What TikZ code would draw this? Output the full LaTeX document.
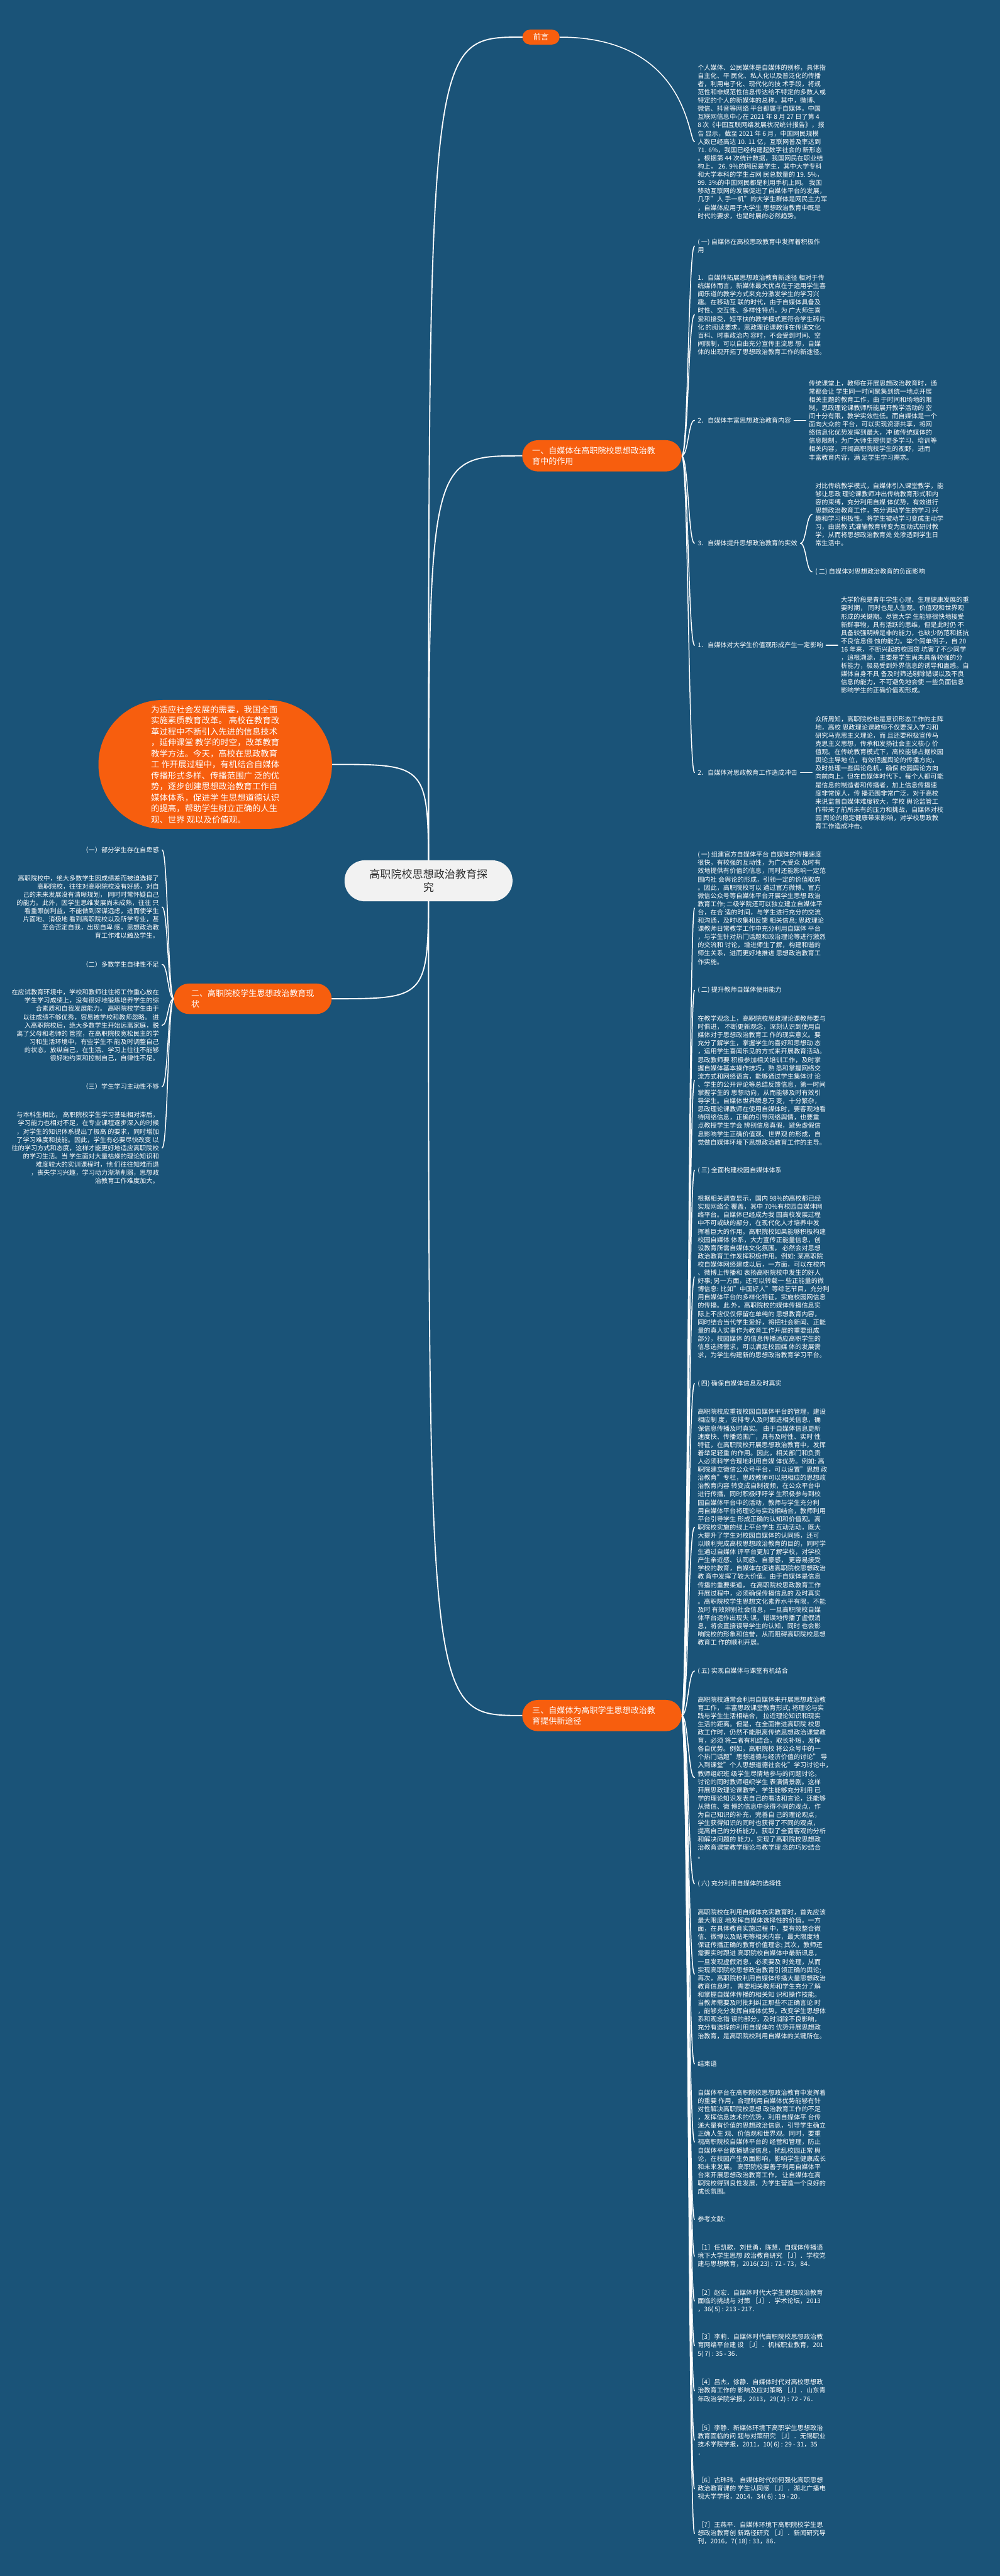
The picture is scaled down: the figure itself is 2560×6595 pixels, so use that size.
\documentclass[tikz,border=0pt]{standalone}
\usepackage{fontspec}
\setmainfont{Noto Sans CJK SC}
\usetikzlibrary{calc}
\definecolor{bgblue}{RGB}{26,83,120}
\definecolor{orng}{RGB}{247,94,14}
\definecolor{ctrfill}{RGB}{242,242,242}
\definecolor{ctrtext}{RGB}{45,45,45}
\pgfdeclarelayer{bglayer}\pgfdeclarelayer{lines}\pgfsetlayers{bglayer,lines,main}
\tikzset{
 para/.style={text=white, inner sep=0pt, outer xsep=8pt, font=\fontsize{16.4pt}{21.1pt}\selectfont, align=left, anchor=west},
 lpara/.style={para, align=right, anchor=east},
 pillbox/.style={fill=orng, text=white, inner sep=0pt, rounded corners=#1},
 link/.style={draw=white, line width=2.4pt, line cap=round},
 mainlink/.style={draw=white, line width=3pt, line cap=round},
}
\begin{document}
\begin{tikzpicture}[x=1pt,y=-1pt]
\useasboundingbox (0,0) rectangle (2560,6595);
\begin{pgfonlayer}{bglayer}
\fill[bgblue] (0,0) rectangle (2560,6595);
\end{pgfonlayer}

% centre
\node[fill=ctrfill, text=ctrtext, rounded corners=52pt, minimum width=430pt, minimum height=105pt, inner sep=0pt, align=center, font=\fontsize{27.5pt}{34pt}\selectfont] (ctr) at (1097,2255) {高职院校思想政治教育探\\究};

% branches right
\node[pillbox=19pt, minimum width=95pt, minimum height=38pt, font=\fontsize{20pt}{24pt}\selectfont] (qy) at (1385,95) {前言};
\node[pillbox=40pt, minimum width=408pt, minimum height=80pt, align=left, font=\fontsize{21pt}{27pt}\selectfont] (b1) at (1541,1167) {一、自媒体在高职院校思想政治教\\育中的作用\hphantom{院校思想政治教育院校思想}};
\node[pillbox=40pt, minimum width=408pt, minimum height=80pt, align=left, font=\fontsize{21pt}{27pt}\selectfont] (b3) at (1541,4392) {三、自媒体为高职学生思想政治教\\育提供新途径\hphantom{院校思想政治教育院校思}};
% branches left
\node[pillbox=165pt, minimum width=598pt, minimum height=330pt, align=left, font=\fontsize{21.6pt}{28.2pt}\selectfont] (sum) at (551,1957) {为适应社会发展的需要，我国全面\\实施素质教育改革。 高校在教育改\\革过程中不断引入先进的信息技术\\，延伸课堂 教学的时空，改革教育\\教学方法。今天，高校在思政教育\\工 作开展过程中，有机结合自媒体\\传播形式多样、传播范围广 泛的优\\势，逐步创建思想政治教育工作自\\媒体体系，促进学 生思想道德认识\\的提高，帮助学生树立正确的人生\\观、世界 观以及价值观。};
\node[pillbox=39pt, minimum width=404pt, minimum height=78pt, align=left, font=\fontsize{21pt}{27pt}\selectfont] (b2) at (647,2557) {二、高职院校学生思想政治教育现\\状\hphantom{高职院校学生思想政治教育现状}};

% 前言
\node[para] (P0) at (1778,363) {个人媒体、公民媒体是自媒体的别称，具体指\\自主化、平 民化、私人化以及普泛化的传播\\者，利用电子化、现代化的技 术手段，将规\\范性和非规范性信息传达给不特定的多数人或\\特定的个人的新媒体的总称。其中，微博、\\微信、抖音等网络 平台都属于自媒体。中国\\互联网信息中心在 2021 年 8 月 27 日了第 4\\8 次《中国互联网络发展状况统计报告》，报\\告 显示，截至 2021 年 6 月，中国网民规模\\人数已经高达 10. 11 亿，互联网普及率达到\\71. 6\%，我国已经构建起数字社会的 新形态\\。根据第 44 次统计数据，我国网民在职业结\\构上， 26. 9\%的网民是学生，其中大学专科\\和大学本科的学生占网 民总数量的 19. 5\%，\\99. 3\%的中国网民都是利用手机上网。 我国\\移动互联网的发展促进了自媒体平台的发展，\\几乎"人 手一机"的大学生群体是网民主力军\\，自媒体应用于大学生 思想政治教育中既是\\时代的要求，也是时展的必然趋势。};

% branch one children
\node[para] (A1) at (1778,630) {( 一) 自媒体在高校思政教育中发挥着积极作\\用};
\node[para] (A2) at (1778,806) {1．自媒体拓展思想政治教育新途径 相对于传\\统媒体而言，新媒体最大优点在于运用学生喜\\闻乐道的教学方式来充分激发学生的学习兴\\趣。在移动互 联的时代，由于自媒体具备及\\时性、交互性、多样性特点，为 广大师生喜\\爱和接受，短平快的教学模式更符合学生碎片\\化 的阅读要求。思政理论课教师在传递文化\\百科、时事政治内 容时，不会受到时间、空\\间限制，可以自由充分宣传主流思 想，自媒\\体的出现开拓了思想政治教育工作的新途径。};
\node[para] (A3) at (1778,1076) {2．自媒体丰富思想政治教育内容};
\node[para] (A3c) at ($(A3.east)+(30,0)$) {传统课堂上，教师在开展思想政治教育时，通\\常都会让 学生同一时间聚集到统一地点开展\\相关主题的教育工作，由 于时间和场地的限\\制，思政理论课教师所能展开教学活动的 空\\间十分有限，教学实效性低。而自媒体是一个\\面向大众的 平台，可以实现资源共享，将网\\络信息化优势发挥到最大，冲 破传统媒体的\\信息限制，为广大师生提供更多学习、培训等\\相关内容，开阔高职院校学生的视野，进而\\丰富教育内容，满 足学生学习需求。};
\node[para] (A4) at (1778,1391) {3．自媒体提升思想政治教育的实效};
\node[para] (A4a) at ($(A4.east)+(30,-74)$) {对比传统教学模式，自媒体引入课堂教学，能\\够让思政 理论课教师冲出传统教育形式和内\\容的束缚，充分利用自媒 体优势，有效进行\\思想政治教育工作，充分调动学生的学习 兴\\趣和学习积极性。将学生被动学习变成主动学\\习，由说教 式灌输教育转变为互动式研讨教\\学，从而将思想政治教育处 处渗透到学生日\\常生活中。};
\node[para] (A4b) at ($(A4.east)+(30,73)$) {( 二) 自媒体对思想政治教育的负面影响};
\node[para] (A5) at (1778,1652) {1．自媒体对大学生价值观形成产生一定影响};
\node[para] (A5c) at ($(A5.east)+(30,0)$) {大学阶段是青年学生心理、生理健康发展的重\\要时期， 同时也是人生观、价值观和世界观\\形成的关键期。尽管大学 生能够很快地接受\\新鲜事物，具有活跃的思维，但是此时仍 不\\具备较强明辨是非的能力，也缺少防范和抵抗\\不良信息侵 蚀的能力。举个简单例子，自 20\\16 年来，不断兴起的校园贷 坑害了不少同学\\，追根溯源，主要是学生尚未具备较强的分\\析能力，极易受到外界信息的诱导和蛊惑。自\\媒体自身不具 备及时筛选剔除错误以及不良\\信息的能力，不可避免地会使 一些负面信息\\影响学生的正确价值观形成。};
\node[para] (A6) at (1778,1978) {2．自媒体对思政教育工作造成冲击};
\node[para] (A6c) at ($(A6.east)+(30,0)$) {众所周知，高职院校也是意识形态工作的主阵\\地，高校 思政理论课教师不仅要深入学习和\\研究马克思主义理论，而 且还要积极宣传马\\克思主义思想，传承和发扬社会主义核心 价\\值观。在传统教育模式下，高校能够占据校园\\舆论主导地 位，有效把握舆论的传播方向，\\及时处理一些舆论危机，确保 校园舆论方向\\向前向上。但在自媒体时代下，每个人都可能\\是信息的制造者和传播者，加上信息传播速\\度非常惊人，传 播范围非常广泛，对于高校\\来说监督自媒体难度较大，学校 舆论监管工\\作带来了前所未有的压力和挑战，自媒体对校\\园 舆论的稳定健康带来影响，对学校思政教\\育工作造成冲击。};

% branch three children
\node[para] (B1) at (1778,2325) {( 一) 组建官方自媒体平台 自媒体的传播速度\\很快，有较强的互动性，为广大受众 及时有\\效地提供有价值的信息，同时还能影响一定范\\围内社 会舆论的形成，引领一定的价值取向\\。因此，高职院校可以 通过官方微博、官方\\微信公众号等自媒体平台开展学生思想 政治\\教育工作; 二级学院还可以独立建立自媒体平\\台，在合 适的时间，与学生进行充分的交流\\和沟通，及时收集和反馈 相关信息; 思政理论\\课教师日常教学工作中充分利用自媒体 平台\\，与学生针对热门话题和政治理论等进行激烈\\的交流和 讨论，增进师生了解，构建和谐的\\师生关系，进而更好地推进 思想政治教育工\\作实施。};
\node[para] (B2) at (1778,2535) {( 二) 提升教师自媒体使用能力};
\node[para] (B3) at (1778,2766) {在教学观念上，高职院校思政理论课教师要与\\时俱进， 不断更新观念，深刻认识到使用自\\媒体对于思想政治教育工 作的现实意义。要\\充分了解学生，掌握学生的喜好和思想动 态\\，运用学生喜闻乐见的方式来开展教育活动。\\思政教师要 积极参加相关培训工作，及时掌\\握自媒体基本操作技巧，熟 悉和掌握网络交\\流方式和网络语言，能够通过学生集体讨 论\\、学生的公开评论等总结反馈信息，第一时间\\掌握学生的 思想动向，从而能够及时有效引\\导学生。自媒体世界瞬息万 变，十分繁杂，\\思政理论课教师在使用自媒体时，要客观地看\\待网络信息，正确的引导网络舆情，也要重\\点教授学生学会 辨别信息真假，避免虚假信\\息影响学生正确价值观、世界观 的形成，自\\觉做自媒体环境下思想政治教育工作的主导。};
\node[para] (B4) at (1778,2996) {( 三) 全面构建校园自媒体体系};
\node[para] (B5) at (1778,3269) {根据相关调查显示，国内 98\%的高校都已经\\实现网络全 覆盖，其中 70\%有校园自媒体网\\络平台。自媒体已经成为我 国高校发展过程\\中不可或缺的部分，在现代化人才培养中发\\挥着巨大的作用。高职院校如果能够积极构建\\校园自媒体 体系，大力宣传正能量信息，创\\设教育所需自媒体文化氛围， 必然会对思想\\政治教育工作发挥积极作用。例如: 某高职院\\校自媒体网络建成以后，一方面，可以在校内\\、微博上传播和 表扬高职院校中发生的好人\\好事; 另一方面，还可以转载一 些正能量的微\\博信息: 比如"中国好人"等综艺节目，充分利\\用自媒体平台的多样化特征，实施校园网信息\\的传播。此 外，高职院校的媒体传播信息实\\际上不应仅仅停留在单纯的 思想教育内容，\\同时结合当代学生爱好，将把社会新闻、正能\\量的真人实事作为教育工作开展的重要组成\\部分，校园媒体 的信息传播适应高职学生的\\信息选择需求，可以满足校园媒 体的发展需\\求，为学生构建新的思想政治教育学习平台。};
\node[para] (B6) at (1778,3542) {( 四) 确保自媒体信息及时真实};
\node[para] (B7) at (1778,3910) {高职院校应重视校园自媒体平台的管理，建设\\相应制 度，安排专人及时跟进相关信息，确\\保信息传播及时真实。 由于自媒体信息更新\\速度快、传播范围广，具有及时性、实时 性\\特征，在高职院校开展思想政治教育中，发挥\\着举足轻重 的作用。因此，相关部门和负责\\人必须科学合理地利用自媒 体优势。例如: 高\\职院建立微信公众号平台，可以设置"思想 政\\治教育"专栏，思政教师可以把相应的思想政\\治教育内容 转变成自制视频，在公众平台中\\进行传播，同时积极呼吁学 生积极参与到校\\园自媒体平台中的活动，教师与学生充分利\\用自媒体平台将理论与实践相结合，教师利用\\平台引导学生 形成正确的认知和价值观。高\\职院校实施的线上平台学生 互动活动，既大\\大提升了学生对校园自媒体的认同感，还可\\以顺利完成高校思想政治教育的目的，同时学\\生通过自媒体 评平台更加了解学校，对学校\\产生亲近感、认同感、自豪感， 更容易接受\\学校的教育，自媒体在促进高职院校思想政治\\教 育中发挥了较大价值。由于自媒体是信息\\传播的重要渠道， 在高职院校思政教育工作\\开展过程中，必须确保传播信息的 及时真实\\。高职院校学生思想文化素养水平有限，不能\\及时 有效辨别社会信息，一旦高职院校自媒\\体平台运作出现失 误，错误地传播了虚假消\\息，将会直接误导学生的认知，同时 也会影\\响院校的形象和信誉，从而阻碍高职院校思想\\教育工 作的顺利开展。};
\node[para] (B8) at (1778,4278) {( 五) 实现自媒体与课堂有机结合};
\node[para] (B9) at (1778,4551) {高职院校通常会利用自媒体来开展思想政治教\\育工作， 丰富思政课堂教育形式; 将理论与实\\践与学生生活相结合， 拉近理论知识和现实\\生活的距离。但是，在全面推进高职院 校思\\政工作时，仍然不能脱离传统思想政治课堂教\\育，必须 将二者有机结合，取长补短，发挥\\各自优势。例如，高职院校 将公众号中的一\\个热门话题"思想道德与经济价值的讨论" 导\\入到课堂"个人思想道德社会化"学习讨论中，\\教师组织班 级学生尽情地参与的问题讨论。\\讨论的同时教师组织学生 表演情景剧。这样\\开展思政理论课教学，学生能够充分利用 已\\学的理论知识发表自己的看法和言论，还能够\\从微信、微 博的信息中获得不同的观点，作\\为自己知识的补充，完善自 己的理论观点，\\学生获得知识的同时也获得了不同的观点，\\提高自己的分析能力，获取了全面客观的分析\\和解决问题的 能力，实现了高职院校思想政\\治教育课堂教学理论与教学理 念的巧妙结合\\。};
\node[para] (B10) at (1778,4823) {( 六) 充分利用自媒体的选择性};
\node[para] (B11) at (1778,5054) {高职院校在利用自媒体充实教育时，首先应该\\最大限度 地发挥自媒体选择性的价值。一方\\面，在具体教育实施过程 中，要有效整合微\\信、微博以及贴吧等相关内容，最大限度地\\保证传播正确的教育价值理念; 其次，教师还\\需要实时跟进 高职院校自媒体中最新讯息，\\一旦发现虚假消息，必须要及 时处理，从而\\实现高职院校思想政治教育引领正确的舆论;\\再次，高职院校利用自媒体传播大量思想政治\\教育信息时， 需要相关教师和学生充分了解\\和掌握自媒体传播的相关知 识和操作技能。\\当教师需要及时批判纠正那些不正确言论 时\\，能够充分发挥自媒体优势，改变学生思想体\\系和观念错 误的部分，及时消除不良影响，\\充分有选择的利用自媒体的 优势开展思想政\\治教育，是高职院校利用自媒体的关键所在。};
\node[para] (B12) at (1778,5284) {结束语};
\node[para] (B13) at (1778,5484) {自媒体平台在高职院校思想政治教育中发挥着\\的重要 作用，合理利用自媒体优势能够有针\\对性解决高职院校思想 政治教育工作的不足\\，发挥信息技术的优势，利用自媒体平 台传\\递大量有价值的思想政治信息，引导学生确立\\正确人生 观、价值观和世界观。同时，要重\\视高职院校自媒体平台的 经营和管理，防止\\自媒体平台散播错误信息，扰乱校园正常 舆\\论，在校园产生负面影响，影响学生健康成长\\和未来发展。 高职院校要善于利用自媒体平\\台来开展思想政治教育工作， 让自媒体在高\\职院校得到良性发展，为学生营造一个良好的\\成长氛围。};
\node[para] (B14) at (1778,5682) {参考文献:};
\node[para] (R1) at (1778,5776) {［1］任凯歌，刘世勇，陈慧．自媒体传播语\\境下大学生思想 政治教育研究 ［J］．学校党\\建与思想教育，2016( 23) : 72 - 73，84．};
\node[para] (R2) at (1778,5891) {［2］赵宏．自媒体时代大学生思想政治教育\\面临的挑战与 对策 ［J］．学术论坛，2013\\，36( 5) : 213 - 217．};
\node[para] (R3) at (1778,6005) {［3］李莉．自媒体时代高职院校思想政治教\\育网络平台建 设 ［J］．机械职业教育，201\\5( 7) : 35 - 36．};
\node[para] (R4) at (1778,6121) {［4］吕杰，徐静．自媒体时代对高校思想政\\治教育工作的 影响及应对策略 ［J］．山东青\\年政治学院学报，2013，29( 2) : 72 - 76．};
\node[para] (R5) at (1778,6247) {［5］李静．新媒体环境下高职学生思想政治\\教育面临的问 题与对策研究 ［J］．无锡职业\\技术学院学报，2011，10( 6) : 29 - 31，35\\．};
\node[para] (R6) at (1778,6372) {［6］古玮玮．自媒体时代如何强化高职思想\\政治教育课的 学生认同感 ［J］．湖北广播电\\视大学学报，2014，34( 6) : 19 - 20．};
\node[para] (R7) at (1778,6486) {［7］王燕平．自媒体环境下高职院校学生思\\想政治教育创 新路径研究 ［J］．新闻研究导\\刊，2016，7( 18) : 33，86．};

% left children
\node[lpara] (L1) at (415,2176) {（一）部分学生存在自卑感};
\node[lpara] (L2) at (415,2322) {高职院校中，绝大多数学生因成绩差而被迫选择了\\高职院校，往往对高职院校没有好感，对自\\己的未来发展没有清晰规划， 同时时常怀疑自己\\的能力。此外，因学生思维发展尚未成熟，往往 只\\看重眼前利益，不能做到深谋远虑，进而使学生\\片面地、消极地 看到高职院校以及所学专业，甚\\至会否定自我，出现自卑 感，思想政治教\\育工作难以触及学生。};
\node[lpara] (L3) at (415,2469) {（二）多数学生自律性不足};
\node[lpara] (L4) at (415,2625) {在应试教育环境中，学校和教师往往将工作重心放在\\学生学习成绩上，没有很好地锻炼培养学生的综\\合素质和自我发展能力。 高职院校学生由于\\以往成绩不够优秀，容易被学校和教师忽略。 进\\入高职院校后，绝大多数学生开始远离家庭，脱\\离了父母和老师的 管控，在高职院校宽松民主的学\\习和生活环境中，有些学生不 能及时调整自己\\的状态，放纵自己，在生活、学习上往往不能够\\很好地约束和控制自己，自律性不足。};
\node[lpara] (L5) at (415,2782) {（三）学生学习主动性不够};
\node[lpara] (L6) at (415,2939) {与本科生相比， 高职院校学生学习基础相对滞后，\\学习能力也相对不足，在专业课程逐步深入的时候\\，对学生的知识体系提出了极高 的要求，同时增加\\了学习难度和技能。因此，学生有必要尽快改变 以\\往的学习方式和态度，这样才能更好地适应高职院校\\的学习生活。当 学生面对大量枯燥的理论知识和\\难度较大的实训课程时，他 们往往知难而退\\，丧失学习兴趣，学习动力渐渐削弱，思想政\\治教育工作难度加大。};

% connectors
\begin{pgfonlayer}{lines}
\draw[mainlink] (ctr.center) .. controls (ctr.center |- qy.west) .. (qy.west);
\draw[mainlink] (ctr.center) .. controls (ctr.center |- b1.west) .. (b1.west);
\draw[mainlink] (ctr.center) .. controls (ctr.center |- b3.west) .. (b3.west);
\draw[mainlink] (ctr.center) .. controls (ctr.center |- sum.east) .. (sum.east);
\draw[mainlink] (ctr.center) .. controls (ctr.center |- b2.east) .. (b2.east);
\draw[link] (qy.east) .. controls +(330,0) and +(-16,0) .. (P0.west);
\foreach \c in {A1,A2,A3,A4,A5,A6}
  \draw[link] (b1.east) .. controls +(17,0) and +(-16,0) .. (\c.west);
\foreach \c in {B1,B2,B3,B4,B5,B6,B7,B8,B9,B10,B11,B12,B13,B14,R1,R2,R3,R4,R5,R6,R7}
  \draw[link] (b3.east) .. controls +(17,0) and +(-16,0) .. (\c.west);
\draw[link] (A3.east) -- (A3c.west);
\draw[link] (A4.east) .. controls +(15,0) and +(-15,0) .. (A4a.west);
\draw[link] (A4.east) .. controls +(15,0) and +(-15,0) .. (A4b.west);
\draw[link] (A5.east) -- (A5c.west);
\draw[link] (A6.east) -- (A6c.west);
\foreach \c in {L1,L2,L3,L4,L5,L6}
  \draw[link] (b2.west) .. controls +(-15,0) and +(15,0) .. (\c.east);
\end{pgfonlayer}
\end{tikzpicture}
\end{document}
